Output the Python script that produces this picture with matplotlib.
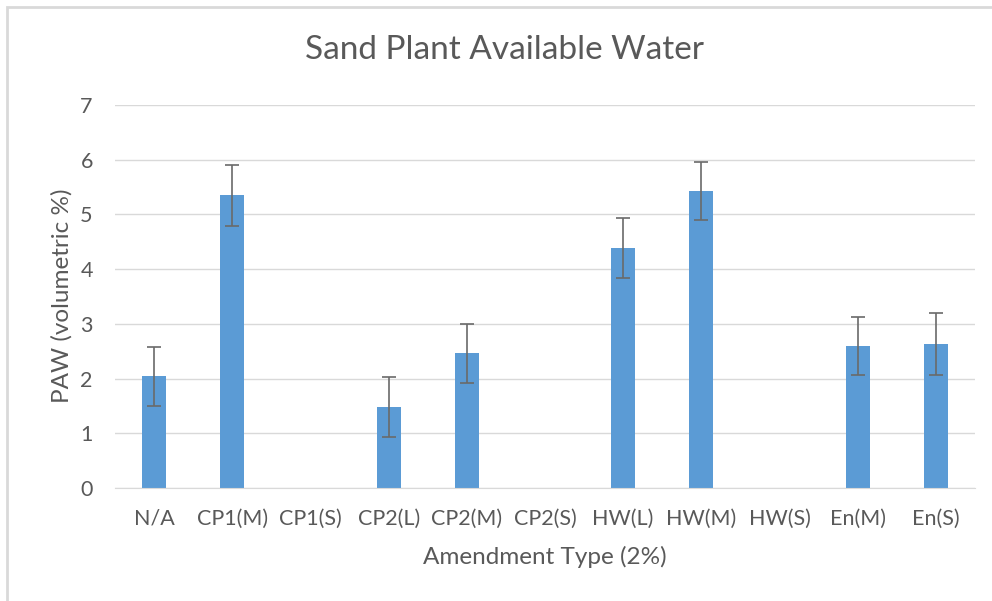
import matplotlib
matplotlib.use("Agg")
import matplotlib.pyplot as plt
from matplotlib.patches import Rectangle

# ── DATA ─────────────────────────────────────────────────────────────────────
categories = ["N/A", "CP1(M)", "CP1(S)", "CP2(L)", "CP2(M)", "CP2(S)",
              "HW(L)", "HW(M)", "HW(S)", "En(M)", "En(S)"]
paw = [2.04, 5.35, 0, 1.48, 2.46, 0, 4.39, 5.42, 0, 2.60, 2.63]
paw_err = [0.54, 0.56, 0, 0.55, 0.54, 0, 0.55, 0.53, 0, 0.53, 0.56]
present = [True, True, False, True, True, False, True, True, False, True, True]
y_ticks = [0, 1, 2, 3, 4, 5, 6, 7]

# ── STYLE ────────────────────────────────────────────────────────────────────
BAR = "#5B9BD5"
TEXT = "#595959"
GRID = "#D9D9D9"
plt.rcParams.update({
    "font.family": ["Lato", "DejaVu Sans"],
    "font.size": 15,
})

fig = plt.figure(figsize=(9.92, 6.01), dpi=100)
ax = fig.add_axes([115 / 992, 113 / 601, 860 / 992, 383 / 601])

# chart frame (cropped screenshot: only top and left edges visible)
fig.patches.append(Rectangle((7 / 992, -0.1), 1.2, (594 / 601) + 0.1,
                             transform=fig.transFigure, fill=False,
                             edgecolor=GRID, linewidth=2.0))

x = list(range(len(categories)))
xs = [i for i, p in zip(x, present) if p]
vals = [v for v, p in zip(paw, present) if p]
errs = [e for e, p in zip(paw_err, present) if p]

ax.bar(xs, vals, width=0.31, color=BAR, zorder=2)
ax.errorbar(xs, vals, yerr=errs, fmt="none", ecolor="#6a6a6a",
            elinewidth=1.2, capsize=5, capthick=1.2, zorder=3)

ax.set_xlim(-0.5, len(categories) - 0.5)
ax.set_ylim(0, 7)
ax.set_yticks(y_ticks)
ax.set_xticks(x)
ax.set_xticklabels(categories)
ax.yaxis.grid(True, color=GRID, linewidth=1.0, zorder=0)
ax.set_axisbelow(True)

for s in ["top", "right", "left"]:
    ax.spines[s].set_visible(False)
ax.spines["bottom"].set_color(GRID)
ax.tick_params(length=0, colors=TEXT, labelsize=15.5)
ax.tick_params(axis="x", pad=15)
ax.tick_params(axis="y", pad=16)

fig.text(545 / 992, 1 - 557 / 601, "Amendment Type (2%)",
         ha="center", va="center", color=TEXT, fontsize=17.5)
fig.text(62 / 992, 1 - 296 / 601, "PAW (volumetric %)", rotation=90,
         ha="center", va="center", color=TEXT, fontsize=17.5)
fig.text(505 / 992, 1 - 50 / 601, "Sand Plant Available Water",
         ha="center", va="center", color=TEXT, fontsize=24)

fig.savefig("out.png", dpi=100)
